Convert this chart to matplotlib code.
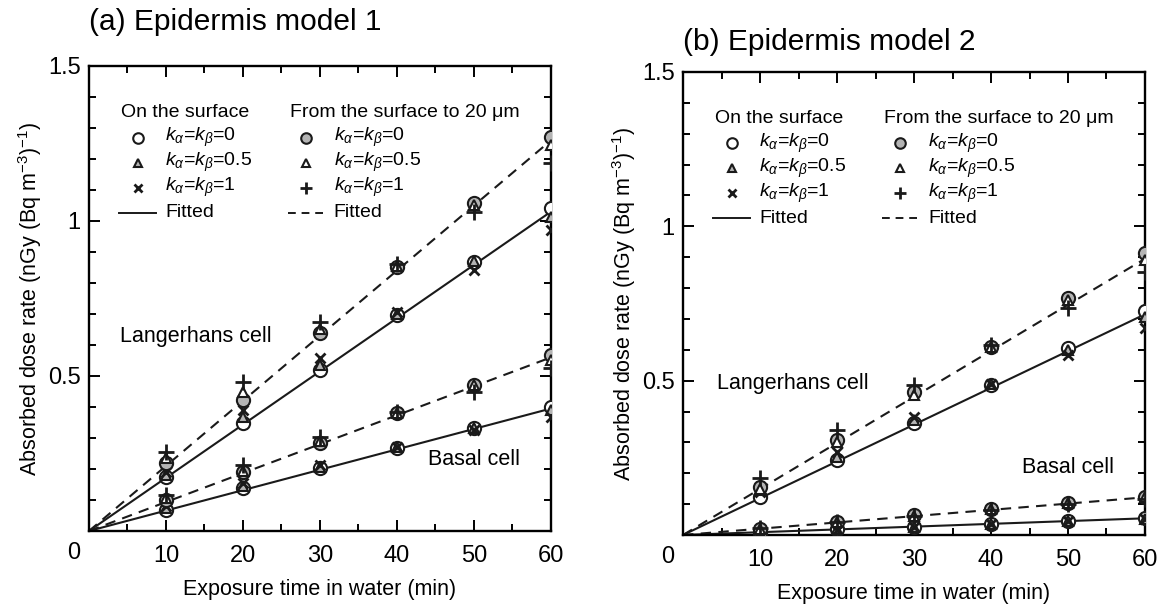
import numpy as np
import matplotlib
matplotlib.use('Agg')
import matplotlib.pyplot as plt
from matplotlib.ticker import MultipleLocator

plt.rcParams['font.family'] = ['Liberation Sans', 'DejaVu Sans']
plt.rcParams['mathtext.fontset'] = 'custom'
plt.rcParams['mathtext.rm'] = 'Liberation Sans'
plt.rcParams['mathtext.it'] = 'Liberation Sans:italic'

# exposure time (min)
t = [10, 20, 30, 40, 50, 60]

# (a) Epidermis model 1 - Langerhans cell
a_lang_surf_k0 = [0.174, 0.348, 0.519, 0.697, 0.868, 1.042]
a_lang_surf_k05 = [0.180, 0.368, 0.535, 0.700, 0.870, 1.013]
a_lang_surf_k1 = [0.190, 0.390, 0.558, 0.705, 0.842, 0.971]
a_lang_d20_k0 = [0.219, 0.423, 0.639, 0.852, 1.058, 1.271]
a_lang_d20_k05 = [0.235, 0.448, 0.650, 0.855, 1.050, 1.245]
a_lang_d20_k1 = [0.255, 0.480, 0.674, 0.860, 1.029, 1.187]
# (a) Basal cell
a_bas_surf_k0 = [0.068, 0.139, 0.203, 0.268, 0.332, 0.400]
a_bas_surf_k05 = [0.075, 0.145, 0.205, 0.270, 0.333, 0.390]
a_bas_surf_k1 = [0.080, 0.155, 0.213, 0.272, 0.326, 0.368]
a_bas_d20_k0 = [0.100, 0.190, 0.284, 0.381, 0.471, 0.568]
a_bas_d20_k05 = [0.105, 0.195, 0.290, 0.382, 0.470, 0.550]
a_bas_d20_k1 = [0.116, 0.213, 0.303, 0.385, 0.448, 0.526]
# fitted values at 60 min (lines through origin)
a_fit60 = {'lang_surf': 1.03, 'lang_d20': 1.26, 'bas_surf': 0.395, 'bas_d20': 0.56}

# (b) Epidermis model 2 - Langerhans cell
b_lang_surf_k0 = [0.123, 0.243, 0.363, 0.486, 0.606, 0.726]
b_lang_surf_k05 = [0.145, 0.253, 0.373, 0.490, 0.600, 0.706]
b_lang_surf_k1 = [0.140, 0.269, 0.382, 0.490, 0.583, 0.670]
b_lang_d20_k0 = [0.156, 0.308, 0.463, 0.609, 0.768, 0.913]
b_lang_d20_k05 = [0.150, 0.300, 0.455, 0.610, 0.760, 0.890]
b_lang_d20_k1 = [0.185, 0.340, 0.486, 0.615, 0.735, 0.852]
# (b) Basal cell
b_bas_surf_k0 = [0.008, 0.018, 0.027, 0.037, 0.046, 0.054]
b_bas_surf_k05 = [0.008, 0.018, 0.027, 0.036, 0.046, 0.053]
b_bas_surf_k1 = [0.007, 0.017, 0.026, 0.035, 0.045, 0.052]
b_bas_d20_k0 = [0.020, 0.042, 0.064, 0.083, 0.103, 0.124]
b_bas_d20_k05 = [0.020, 0.041, 0.063, 0.083, 0.102, 0.122]
b_bas_d20_k1 = [0.021, 0.043, 0.062, 0.082, 0.100, 0.118]
b_fit60 = {'lang_surf': 0.715, 'lang_d20': 0.895, 'bas_surf': 0.054, 'bas_d20': 0.122}

GRAY = '#b4b4b4'
EDGE = '#1a1a1a'
styles = {
    'surf_k0': dict(marker='o', mfc='white', mec=EDGE, ms=9.5, mew=1.5),
    'surf_k05': dict(marker='^', mfc=GRAY, mec=EDGE, ms=7.5, mew=1.5),
    'surf_k1': dict(marker='x', mec=EDGE, ms=7.5, mew=2.0),
    'd20_k0': dict(marker='o', mfc=GRAY, mec=EDGE, ms=9.5, mew=1.5),
    'd20_k05': dict(marker='^', mfc='white', mec=EDGE, ms=7.5, mew=1.5),
    'd20_k1': dict(marker='+', mec=EDGE, ms=11, mew=2.0),
}


def draw_panel(ax, series, fit60, title, title_y, lang_pos, bas_pos):
    xx = np.array([0, 60])
    for key in ['lang_surf', 'bas_surf']:
        ax.plot(xx, xx / 60 * fit60[key], '-', color=EDGE, lw=1.5, zorder=2)
    for key in ['lang_d20', 'bas_d20']:
        ax.plot(xx, xx / 60 * fit60[key], '--', color=EDGE, lw=1.5,
                dashes=(5, 3.5), zorder=2)
    for key, vals in series:
        ax.plot(t, vals, ls='none', zorder=3, **styles[key])

    ax.set_xlim(0, 60)
    ax.set_ylim(0, 1.5)
    ax.xaxis.set_major_locator(MultipleLocator(10))
    ax.xaxis.set_minor_locator(MultipleLocator(5))
    ax.yaxis.set_major_locator(MultipleLocator(0.5))
    ax.yaxis.set_minor_locator(MultipleLocator(0.1))
    ax.tick_params(which='both', direction='in', top=True, right=True,
                   width=1.4, labelsize=17, pad=6)
    ax.tick_params(axis='x', pad=10)
    ax.tick_params(which='major', length=8)
    ax.tick_params(which='minor', length=5)
    ax.set_xticks([0, 10, 20, 30, 40, 50, 60])
    ax.set_xticklabels(['', '10', '20', '30', '40', '50', '60'])
    ax.set_yticks([0, 0.5, 1, 1.5])
    ax.set_yticklabels(['', '0.5', '1', '1.5'])
    ax.text(-0.033, -0.024, '0', transform=ax.transAxes, ha='center', va='top',
            fontsize=17)
    for s in ax.spines.values():
        s.set_linewidth(1.7)

    ax.set_xlabel('Exposure time in water (min)', fontsize=15.5, labelpad=9)
    ax.set_ylabel('Absorbed dose rate (nGy (Bq m$^{-3}$)$^{-1}$)', fontsize=15.5,
                  labelpad=3)
    ax.text(0.0, title_y, title, transform=ax.transAxes, fontsize=21.5,
            ha='left', va='center')
    ax.text(lang_pos[0], lang_pos[1], 'Langerhans cell', fontsize=15.5,
            va='center', ha='left')
    ax.text(bas_pos[0], bas_pos[1], 'Basal cell', fontsize=15.5,
            va='center', ha='left')

    # legend (two columns)
    lab = [r'$k_{\alpha}$=$k_{\beta}$=0', r'$k_{\alpha}$=$k_{\beta}$=0.5',
           r'$k_{\alpha}$=$k_{\beta}$=1']
    top = 0.90
    dy = 0.054
    cols = [(0.07, 'On the surface', ['surf_k0', 'surf_k05', 'surf_k1'], '-'),
            (0.435, 'From the surface to 20 μm', ['d20_k0', 'd20_k05', 'd20_k1'], '--')]
    for x0, head, keys, ls in cols:
        ax.text(x0, top, head, transform=ax.transAxes, fontsize=14,
                va='center', ha='left')
        for i, key in enumerate(keys):
            y = top - dy * (i + 1)
            st = dict(styles[key])
            st['ms'] = st['ms'] * 0.8
            ax.plot([x0 + 0.035], [y], transform=ax.transAxes, ls='none',
                    clip_on=False, **st)
            ax.text(x0 + 0.095, y, lab[i], transform=ax.transAxes,
                    fontsize=14, va='center', ha='left')
        y = top - dy * 4
        if ls == '-':
            ax.plot([x0 - 0.005, x0 + 0.075], [y, y], '-', color=EDGE, lw=1.4,
                    transform=ax.transAxes)
        else:
            ax.plot([x0 - 0.005, x0 + 0.075], [y, y], '--', color=EDGE, lw=1.4,
                    dashes=(4, 3), transform=ax.transAxes)
        ax.text(x0 + 0.095, y, 'Fitted', transform=ax.transAxes,
                fontsize=14, va='center', ha='left')


fig = plt.figure(figsize=(11.68, 6.06), dpi=100)
ax1 = fig.add_axes([0.0762, 0.1238, 0.3955, 0.7673])
ax2 = fig.add_axes([0.5848, 0.1172, 0.3955, 0.7640])

series_a = [('surf_k0', a_lang_surf_k0), ('surf_k05', a_lang_surf_k05),
            ('surf_k1', a_lang_surf_k1), ('d20_k0', a_lang_d20_k0),
            ('d20_k05', a_lang_d20_k05), ('d20_k1', a_lang_d20_k1),
            ('surf_k0', a_bas_surf_k0), ('surf_k05', a_bas_surf_k05),
            ('surf_k1', a_bas_surf_k1), ('d20_k0', a_bas_d20_k0),
            ('d20_k05', a_bas_d20_k05), ('d20_k1', a_bas_d20_k1)]
series_b = [('surf_k0', b_lang_surf_k0), ('surf_k05', b_lang_surf_k05),
            ('surf_k1', b_lang_surf_k1), ('d20_k0', b_lang_d20_k0),
            ('d20_k05', b_lang_d20_k05), ('d20_k1', b_lang_d20_k1),
            ('surf_k0', b_bas_surf_k0), ('surf_k05', b_bas_surf_k05),
            ('surf_k1', b_bas_surf_k1), ('d20_k0', b_bas_d20_k0),
            ('d20_k05', b_bas_d20_k05), ('d20_k1', b_bas_d20_k1)]

draw_panel(ax1, series_a, a_fit60, '(a) Epidermis model 1', 1.095,
           (4.0, 0.626), (44.0, 0.229))
draw_panel(ax2, series_b, b_fit60, '(b) Epidermis model 2', 1.065,
           (4.4, 0.49), (44.0, 0.217))

fig.savefig('out.png', dpi=100)
